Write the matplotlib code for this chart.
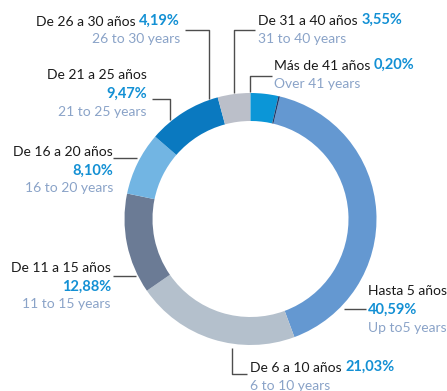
import matplotlib.pyplot as plt

plt.rcParams['font.family'] = ['Lato', 'DejaVu Sans']

labels_es = ['Hasta 5 años', 'De 6 a 10 años', 'De 11 a 15 años', 'De 16 a 20 años',
             'De 21 a 25 años', 'De 26 a 30 años', 'De 31 a 40 años', 'Más de 41 años']
labels_en = ['Up to5 years', '6 to 10 years', '11 to 15 years', '16 to 20 years',
             '21 to 25 years', '26 to 30 years', '31 to 40 years', 'Over 41 years']
shares = [40.59, 21.03, 12.88, 8.10, 9.47, 4.19, 3.55, 0.20]
colors = ['#6498d1', '#b4c0cc', '#6b7b95', '#72b5e3', '#0a79c0', '#bbbfc9', '#0b96d7', '#1f3b6b']

BLACK = '#1a1a1a'
BLUE = '#1390d4'
GREY = '#8aa3c8'
LINE = '#4d4d4d'
FS = 10

W, H = 447, 391
fig = plt.figure(figsize=(W / 100, H / 100), dpi=100)
ax = fig.add_axes([0, 0, 1, 1])


def Y(y):
    # pixel rows from the top -> data y
    return H - y


ax.pie(shares, colors=colors, startangle=76.5, counterclock=False,
       center=(250.5, Y(219)), radius=126,
       wedgeprops=dict(width=28, linewidth=0))
ax.set_xlim(0, W)
ax.set_ylim(0, H)
ax.set_aspect('equal')
ax.axis('off')


def pct(v):
    return f'{v:.2f}'.replace('.', ',') + '%'


def inline_label(i, x, y, ha):
    # Spanish label and bold percentage on one line
    if ha == 'left':
        t = ax.text(x, Y(y), labels_es[i] + ' ', ha='left', va='center',
                    fontsize=FS, color=BLACK)
        ax.annotate(pct(shares[i]), xy=(1, 0), xycoords=t, ha='left', va='bottom',
                    fontsize=FS + 0.5, color=BLUE, fontweight='bold')
    else:
        t = ax.text(x, Y(y), pct(shares[i]), ha='right', va='center',
                    fontsize=FS + 0.5, color=BLUE, fontweight='bold')
        ax.annotate(labels_es[i] + ' ', xy=(0, 0), xycoords=t, ha='right', va='bottom',
                    fontsize=FS, color=BLACK)
    ax.text(x, Y(y + 18), labels_en[i], ha=ha, va='center', fontsize=FS, color=GREY)


def stacked_label(i, x, y, ha):
    # label, percentage and English label on three lines
    ax.text(x, Y(y), labels_es[i], ha=ha, va='center', fontsize=FS, color=BLACK)
    ax.text(x, Y(y + 18.5), pct(shares[i]), ha=ha, va='center', fontsize=FS + 0.5,
            color=BLUE, fontweight='bold')
    ax.text(x, Y(y + 36.5), labels_en[i], ha=ha, va='center', fontsize=FS, color=GREY)


def leader(xs, ys):
    ax.plot(xs, [Y(v) for v in ys], color=LINE, linewidth=1, solid_capstyle='butt')


# Hasta 5 años
stacked_label(0, 368, 291, 'left')
leader([344, 366], [309, 309])

# De 6 a 10 años
inline_label(1, 250, 368, 'left')
leader([232, 232, 247], [348, 374, 374])

# De 11 a 15 años
stacked_label(2, 111, 268, 'right')
leader([113, 136], [276, 276])

# De 16 a 20 años
stacked_label(3, 113, 152, 'right')
leader([113, 137], [158, 158])

# De 21 a 25 años
stacked_label(4, 147, 75, 'right')
leader([152, 170, 170], [99, 99, 120])

# De 26 a 30 años
inline_label(5, 180, 21, 'right')
leader([185, 209, 209], [30, 30, 99])

# De 31 a 40 años
inline_label(6, 258, 21, 'left')
leader([255, 234, 234], [30, 30, 93])

# Más de 41 años
inline_label(7, 274, 66, 'left')
leader([272, 250, 250], [76, 76, 92])

fig.savefig('out.png', dpi=100)
